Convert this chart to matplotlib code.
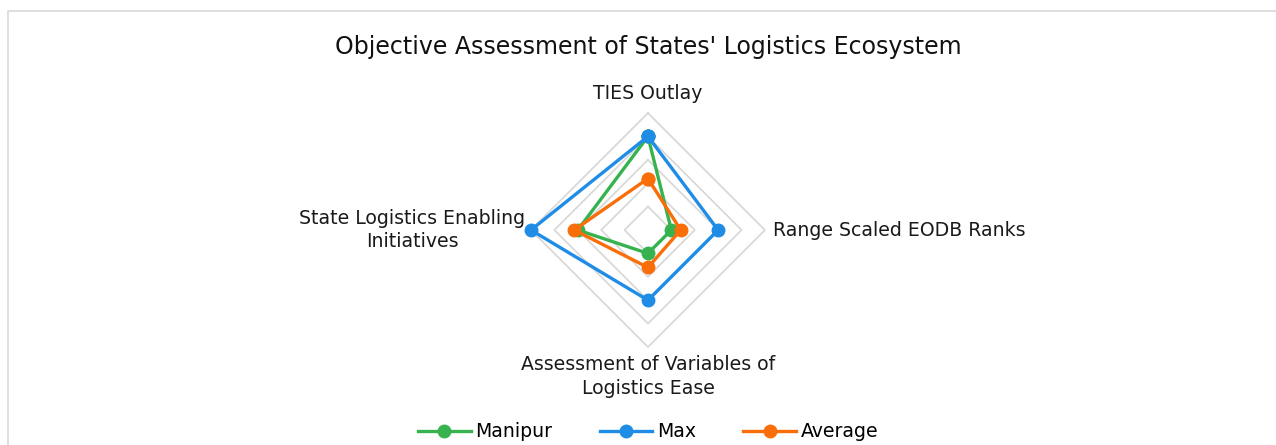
import numpy as np
import matplotlib
matplotlib.use("Agg")
import matplotlib.pyplot as plt
from matplotlib.patches import Rectangle

# chart data
categories = ["TIES Outlay", "Range Scaled EODB Ranks",
              "Assessment of Variables of\nLogistics Ease",
              "State Logistics Enabling\nInitiatives"]
manipur = [4.0, 1.0, 1.0, 3.0]
max_vals = [4.0, 3.0, 3.0, 5.0]
average = [2.2, 1.4, 1.6, 3.15]
ring_levels = [1, 2, 3, 4, 5]

series = [("Manipur", manipur, "#36b34f"),
          ("Max", max_vals, "#1f8ce6"),
          ("Average", average, "#fa6e0a")]

plt.rcParams["font.family"] = ["DejaVu Sans"]

fig = plt.figure(figsize=(12.76, 4.45), dpi=100)

# light frame around the chart area
fig.patches.append(Rectangle((8 / 1276, -0.1), 1.2, 1.1 - 11 / 445,
                             transform=fig.transFigure, fill=False,
                             edgecolor="#d9d9d9", linewidth=1.2))

ax = fig.add_axes([0.4161, 0.2202, 0.1834, 0.5258], projection="polar")
ax.set_theta_offset(np.pi / 2)
ax.set_theta_direction(-1)

n = len(categories)
angles = np.linspace(0, 2 * np.pi, n, endpoint=False)
closed = np.append(angles, angles[0])

# diamond gridlines
for lvl in ring_levels:
    ax.plot(closed, [lvl] * (n + 1), color="#d9d9d9", linewidth=1.3, zorder=1,
            clip_on=False)

for name, vals, col in series:
    v = vals + vals[:1]
    ax.plot(closed, v, color=col, linewidth=2.4, marker="o", markersize=9,
            label=name, zorder=3, clip_on=False)

ax.set_ylim(0, 5)
ax.set_xticks([])
ax.set_yticks([])
ax.grid(False)
ax.spines["polar"].set_visible(False)
ax.patch.set_visible(False)

# axis labels around the diamond
offsets = [((0, 10), "center", "bottom"),
           ((8, 0), "left", "center"),
           ((0, -8), "center", "top"),
           ((-6, 0), "right", "center")]
for ang, label, (off, ha, va) in zip(angles, categories, offsets):
    ax.annotate(label, xy=(ang, 5), xytext=off, textcoords="offset pixels",
                ha=ha, va=va, ma="center", fontsize=13.6, color="#1a1a1a",
                linespacing=1.3)

fig.text(0.508, 0.895, "Objective Assessment of States' Logistics Ecosystem",
         ha="center", va="center", fontsize=17, color="#111111")

fig.legend(loc="center", bbox_to_anchor=(0.508, 0.03), ncol=3, frameon=False,
           fontsize=13.6, handlelength=2.8, columnspacing=2.5, handletextpad=0.25)

fig.savefig("out.png", dpi=100)
plt.close(fig)
